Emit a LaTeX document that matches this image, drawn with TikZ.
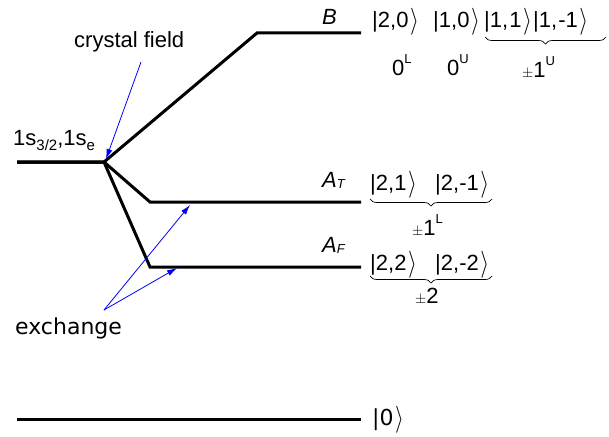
\documentclass[tikz,border=0pt]{standalone}
\usepackage{fontspec}
\setmainfont{Liberation Sans}
\newfontfamily\dejavu{DejaVu Sans}
\usetikzlibrary{arrows.meta,decorations.pathreplacing}
\newcommand{\myket}[1]{|#1\hspace{1.5pt}\raisebox{-1pt}{\scalebox{1.1}[1.3]{$\rangle$}}}
\newcommand{\hisup}[1]{\raisebox{12pt}{\fontsize{13}{13}\selectfont #1}}
\newcommand{\losub}[1]{\raisebox{-5pt}{\fontsize{15}{15}\selectfont #1}}
\newcommand{\itsub}[1]{\raisebox{-1pt}{\fontsize{13}{13}\selectfont\itshape #1}}
\begin{document}
\begin{tikzpicture}[x=1pt,y=-1pt,
  lvl/.style={line width=3pt, line join=miter},
  txt/.style={inner sep=0pt, anchor=base west, font=\fontsize{22}{26}\selectfont},
  dtxt/.style={txt, font=\fontsize{22}{26}\selectfont\dejavu},
  ptr/.style={blue, line width=0.8pt, -{Latex[length=10pt,width=6pt]}},
  brc/.style={decorate, decoration={brace, mirror, amplitude=7pt}, line width=0.7pt}]
\useasboundingbox (0,0) rectangle (609,436);
% level coordinates
\coordinate (s0) at (17,162);
\coordinate (split) at (104,162);
\coordinate (Bc) at (257,33);
\coordinate (Be) at (361,33);
\coordinate (ATc) at (150,202);
\coordinate (ATe) at (361,202);
\coordinate (AFc) at (150,267);
\coordinate (AFe) at (361,267);
\coordinate (g0) at (17,419);
\coordinate (ge) at (361,419);
% levels
\draw[lvl] (s0) -- (split) -- (Bc) -- (Be);
\draw[lvl] (s0) -- (split) -- (ATc) -- (ATe);
\draw[lvl] (s0) -- (split) -- (AFc) -- (AFe);
\draw[lvl] (g0) -- (ge);
% labels
\node[txt] (init) at (13,145) {1s\losub{3/2},1s\losub{e}};
\node[txt] (cf) at (74,48) {crystal field};
\node[dtxt] (exch) at (15,334) {exchange};
\node[txt] (Blab) at (322,25) {\itshape B};
\node[txt] (ATlab) at (322,187) {\itshape A\itsub{T}};
\node[txt] (AFlab) at (322,252) {\itshape A\itsub{F}};
% B kets
\node[txt] (k20) at (372,28) {\myket{2,0}};
\node[txt] (k10) at (433,28) {\myket{1,0}};
\node[txt] (k11) at (484,28) {\myket{1,\hspace{1pt}1}};
\node[txt] (k1m1) at (533,28) {\myket{1,\hspace{1pt}-1}};
\draw[brc] (485,37) -- (606,37);
\node[txt] (zL) at (392,75) {0\hisup{L}};
\node[txt] (zU) at (447,75) {0\hisup{U}};
\node[txt] (pU) at (522,77) {\fontsize{15}{15}\selectfont$\pm$\fontsize{22}{26}\selectfont 1\hisup{U}};
% A_T kets
\node[txt] (k21) at (370,190) {\myket{2,1}};
\node[txt] (k2m1) at (435,190) {\myket{2,-1}};
\draw[brc] (370,199) -- (492,199);
\node[txt] (pL) at (412,235) {\fontsize{15}{15}\selectfont$\pm$\fontsize{22}{26}\selectfont 1\hisup{L}};
% A_F kets
\node[txt] (k22) at (370,270) {\myket{2,2}};
\node[txt] (k2m2) at (435,270) {\myket{2,-2}};
\draw[brc] (370,276) -- (492,276);
\node[txt] (p2) at (415,303) {\fontsize{15}{15}\selectfont$\pm$\fontsize{22}{26}\selectfont 2};
% ground
\node[dtxt] (k0) at (372,425) {\myket{0}};
% arrows
\coordinate (cfs) at (141,62);
\coordinate (cft) at (106,159);
\draw[ptr] (cfs) -- (cft);
\coordinate (exs) at (104,310);
\coordinate (ext1) at (190,205);
\coordinate (ext2) at (177,268);
\draw[ptr] (exs) -- (ext1);
\draw[ptr] (exs) -- (ext2);
\end{tikzpicture}
\end{document}
